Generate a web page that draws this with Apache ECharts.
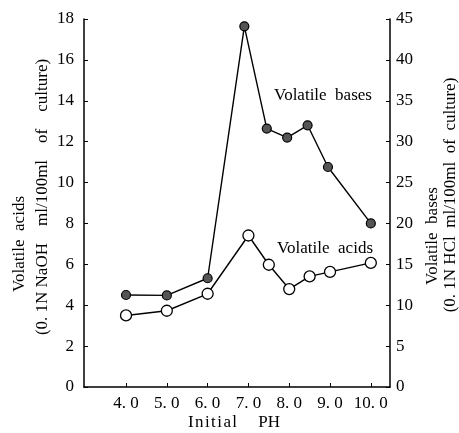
<!DOCTYPE html>
<html>
<head>
<meta charset="utf-8">
<script src="https://cdn.jsdelivr.net/npm/echarts@6/dist/echarts.min.js"></script>
<style>
html,body{margin:0;padding:0;background:#fff;}
#chart{width:459px;height:433px;}
</style>
</head>
<body>
<div id="chart"></div>
<script>
// ---- data ----
var xTicks = [4, 5, 6, 7, 8, 9, 10];
var leftTicks = [0, 2, 4, 6, 8, 10, 12, 14, 16, 18];
var rightTicks = [0, 5, 10, 15, 20, 25, 30, 35, 40, 45];

// Volatile bases (filled circles, right axis, 0.1N HCl ml/100ml)
var basesPH   = [4.0, 5.0, 6.0, 6.9, 7.45, 7.95, 8.45, 8.95, 10.0];
var basesVals = [11.25, 11.2, 13.3, 44.1, 31.6, 30.5, 32.0, 26.9, 20.0];

// Volatile acids (open circles, left axis, 0.1N NaOH ml/100ml)
var acidsPH   = [4.0, 5.0, 6.0, 7.0, 7.5, 8.0, 8.5, 9.0, 10.0];
var acidsVals = [3.5, 3.73, 4.56, 7.41, 5.98, 4.79, 5.41, 5.63, 6.07];

function pairs(xs, ys){ return xs.map(function(x,i){ return [x, ys[i]]; }); }

var FONT = '"Liberation Serif", "DejaVu Serif", serif';
var chart = echarts.init(document.getElementById('chart'), null, {renderer:'canvas'});

var axisLineStyle = {color:'#000', width:1.5};
var option = {
  animation: false,
  backgroundColor: '#fff',
  grid: {left: 84, right: 69, top: 19, height: 368, containLabel: false},
  xAxis: {
    type: 'value', min: 2.97, max: 10.47,
    axisLine: {show: true, lineStyle: axisLineStyle},
    axisTick: {show: true, inside: true, length: 4, lineStyle:{color:'#000', width:1}, customValues: xTicks},
    axisLabel: {show: true, margin: 8, color:'#000', fontFamily: FONT, fontSize: 17,
      customValues: xTicks,
      formatter: function(v){ return v.toFixed(1).replace('.', '. '); }},
    splitLine: {show: false}
  },
  yAxis: [
    {
      type: 'value', position: 'left', min: 0, max: 18, interval: 2,
      axisLine: {show: true, onZero: false, lineStyle: axisLineStyle},
      axisTick: {show: true, inside: true, length: 4, lineStyle:{color:'#000', width:1}},
      axisLabel: {margin: 10, color:'#000', fontFamily: FONT, fontSize: 17},
      splitLine: {show: false}
    },
    {
      type: 'value', position: 'right', min: 0, max: 45, interval: 5,
      axisLine: {show: true, onZero: false, lineStyle: axisLineStyle},
      axisTick: {show: true, inside: true, length: 4, lineStyle:{color:'#000', width:1}},
      axisLabel: {margin: 6, color:'#000', fontFamily: FONT, fontSize: 17},
      splitLine: {show: false}
    }
  ],
  series: [
    {
      name: 'Volatile bases', type: 'line', yAxisIndex: 1,
      data: pairs(basesPH, basesVals),
      symbol: 'circle', symbolSize: 9,
      lineStyle: {color:'#000', width:1.4},
      itemStyle: {color:'#555', borderColor:'#000', borderWidth:1.2},
      z: 3
    },
    {
      name: 'Volatile acids', type: 'line', yAxisIndex: 0,
      data: pairs(acidsPH, acidsVals),
      symbol: 'circle', symbolSize: 11,
      lineStyle: {color:'#000', width:1.4},
      itemStyle: {color:'#fff', borderColor:'#000', borderWidth:1.3},
      z: 3
    }
  ],
  graphic: [
    {type:'text', x:20, y:244, rotation: Math.PI/2,
     style:{text:'Volatile  acids', font:'17px ' + FONT, fill:'#000', textAlign:'center', textVerticalAlign:'middle'}},
    {type:'text', x:43, y:197, rotation: Math.PI/2,
     style:{text:'(0. 1N NaOH\u2003ml/100ml\u2003of\u2003culture)', font:'17px ' + FONT, fill:'#000', textAlign:'center', textVerticalAlign:'middle'}},
    {type:'text', x:433, y:236, rotation: Math.PI/2,
     style:{text:'Volatile  bases', font:'17px ' + FONT, fill:'#000', textAlign:'center', textVerticalAlign:'middle'}},
    {type:'text', x:451, y:195, rotation: Math.PI/2,
     style:{text:'(0. 1N HCl  ml/100ml  of  culture)', font:'17px ' + FONT, fill:'#000', textAlign:'center', textVerticalAlign:'middle'}},
    {type:'text', x:234, y:423,
     style:{text:'I\u200an\u200ai\u200at\u200ai\u200aa\u200al\u2003 PH', font:'17px ' + FONT, fill:'#000', textAlign:'center', textVerticalAlign:'middle'}},
    {type:'text', x:323, y:96,
     style:{text:'Volatile  bases', font:'17px ' + FONT, fill:'#000', textAlign:'center', textVerticalAlign:'middle'}},
    {type:'text', x:325, y:249,
     style:{text:'Volatile  acids', font:'17px ' + FONT, fill:'#000', textAlign:'center', textVerticalAlign:'middle'}}
  ]
};
chart.setOption(option);
</script>
</body>
</html>
